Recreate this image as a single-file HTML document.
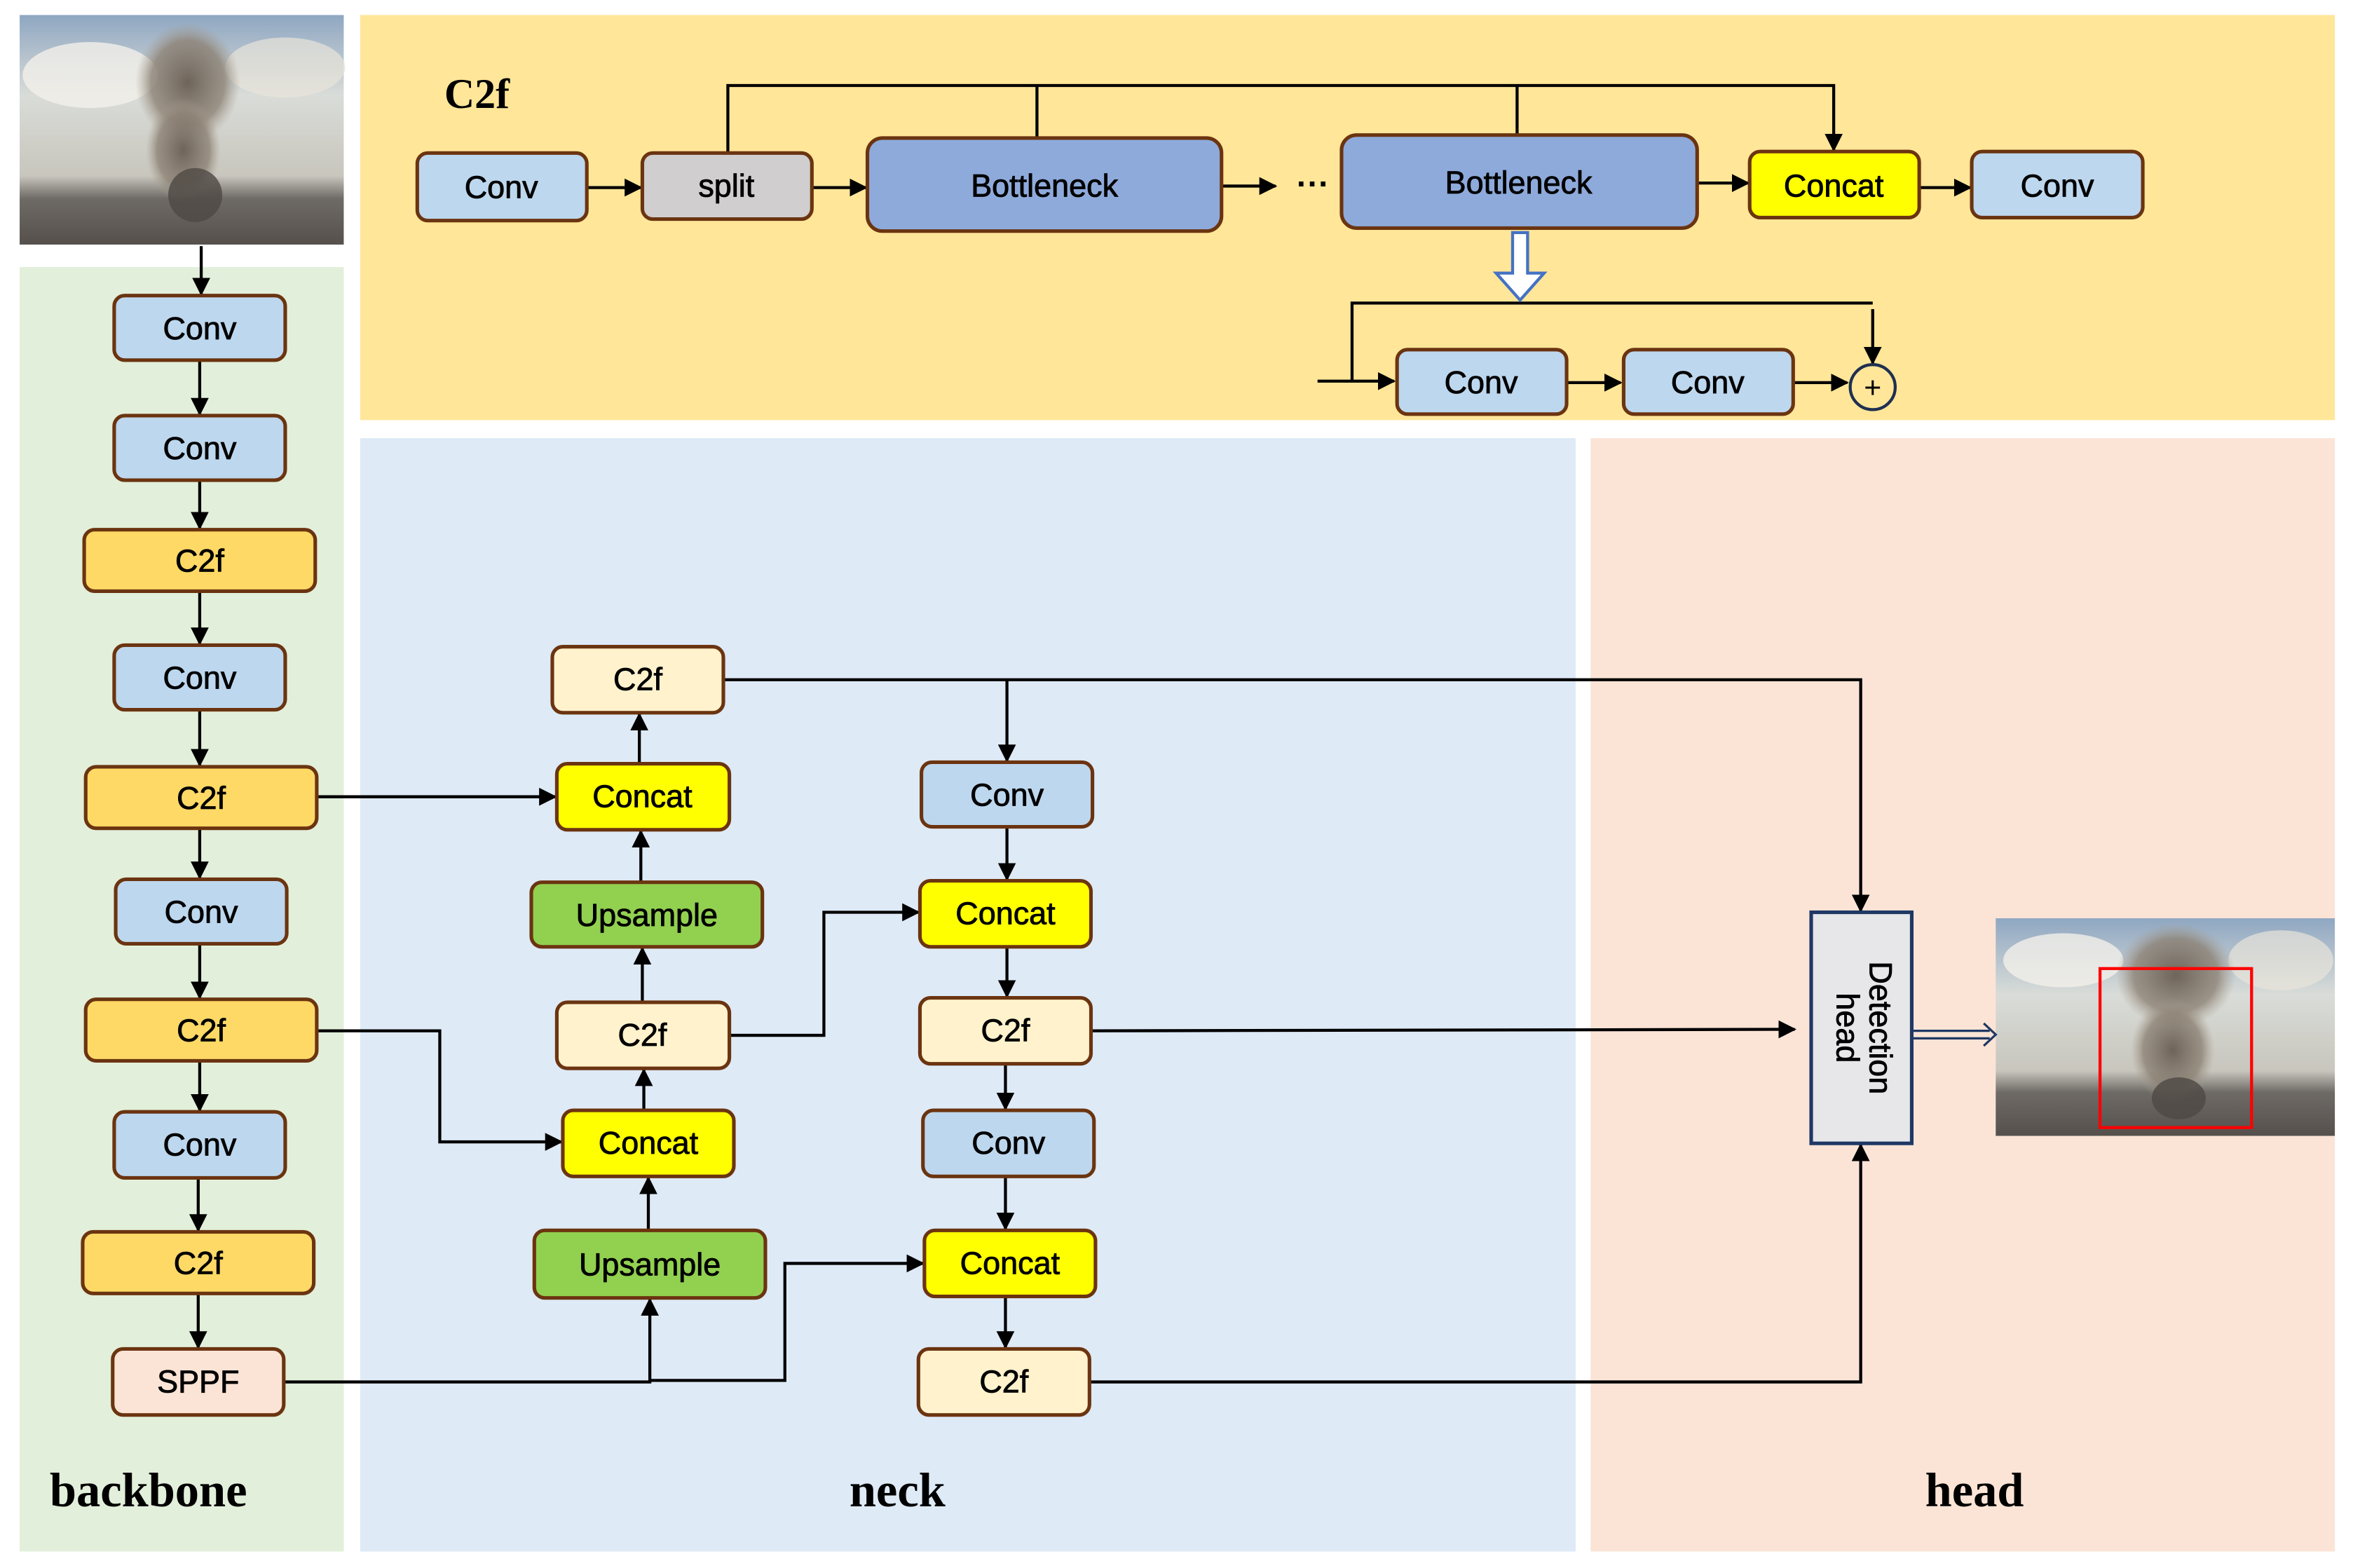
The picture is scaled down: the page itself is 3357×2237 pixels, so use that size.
<!DOCTYPE html>
<html><head><meta charset="utf-8">
<style>
html,body{margin:0;padding:0;background:#fff;}
svg{display:block;}
.n text, text.n{font-family:"Liberation Sans","DejaVu Sans",sans-serif;}
.s text{font-family:"Liberation Serif",serif;font-weight:bold;}
</style></head>
<body>
<svg width="3357" height="2237" viewBox="0 0 1568 1045" xmlns="http://www.w3.org/2000/svg">
<defs>
<marker id="a" viewBox="0 0 10 10" refX="9" refY="5" markerWidth="6" markerHeight="6" orient="auto"><path d="M0,0 L10,5 L0,10 z" fill="#000"/></marker>
<linearGradient id="sky" x1="0" y1="0" x2="0" y2="1">
<stop offset="0" stop-color="#8fa7c2"/><stop offset="0.35" stop-color="#d9dcd8"/><stop offset="0.7" stop-color="#c8c6bd"/><stop offset="0.8" stop-color="#6e6a66"/><stop offset="1" stop-color="#55504c"/></linearGradient>
<radialGradient id="smoke" cx="0.5" cy="0.5" r="0.5"><stop offset="0" stop-color="#6e645a"/><stop offset="0.7" stop-color="#8d8275" stop-opacity="0.8"/><stop offset="1" stop-color="#a89e90" stop-opacity="0"/></radialGradient>
</defs>
<rect width="1568" height="1045" fill="#fff"/>
<rect x="13" y="178" width="216" height="856" fill="#e2efda"/>
<rect x="240" y="10" width="1316" height="270" fill="#ffe699"/>
<rect x="240" y="292" width="810" height="742" fill="#deeaf6"/>
<rect x="1060" y="292" width="496" height="742" fill="#fbe4d6"/>
<g>
<rect x="13" y="10" width="216" height="153" fill="url(#sky)"/>
<ellipse cx="60" cy="50" rx="45" ry="22" fill="#f2f0ea" opacity="0.8"/>
<ellipse cx="190" cy="45" rx="40" ry="20" fill="#e8e4da" opacity="0.7"/>
<ellipse cx="125" cy="55" rx="35" ry="40" fill="url(#smoke)"/>
<ellipse cx="122" cy="100" rx="25" ry="35" fill="url(#smoke)"/>
<ellipse cx="130" cy="130" rx="18" ry="18" fill="#4e4944" opacity="0.8"/>
</g>
<g>
<rect x="1330" y="612" width="226" height="145" fill="url(#sky)"/>
<ellipse cx="1375" cy="640" rx="40" ry="18" fill="#f2f0ea" opacity="0.8"/>
<ellipse cx="1520" cy="640" rx="35" ry="20" fill="#e8e4da" opacity="0.7"/>
<ellipse cx="1450" cy="650" rx="40" ry="35" fill="url(#smoke)"/>
<ellipse cx="1448" cy="700" rx="28" ry="35" fill="url(#smoke)"/>
<ellipse cx="1452" cy="732" rx="18" ry="14" fill="#4e4944" opacity="0.8"/>
<rect x="1399.5" y="645.5" width="101" height="106" fill="none" stroke="#ff0000" stroke-width="2"/>
</g>

<g stroke="#000" stroke-width="2" fill="none">
<line x1="134" y1="164" x2="134" y2="196" marker-end="url(#a)"/>
<line x1="133" y1="241" x2="133" y2="276" marker-end="url(#a)"/>
<line x1="133" y1="321" x2="133" y2="352" marker-end="url(#a)"/>
<line x1="133" y1="395" x2="133" y2="429" marker-end="url(#a)"/>
<line x1="133" y1="474" x2="133" y2="510" marker-end="url(#a)"/>
<line x1="133" y1="553" x2="133" y2="585" marker-end="url(#a)"/>
<line x1="133" y1="630" x2="133" y2="665" marker-end="url(#a)"/>
<line x1="133" y1="708" x2="133" y2="740" marker-end="url(#a)"/>
<line x1="132" y1="786" x2="132" y2="820" marker-end="url(#a)"/>
<line x1="132" y1="863" x2="132" y2="898" marker-end="url(#a)"/>
<polyline points="211,531 370,531" marker-end="url(#a)"/>
<polyline points="211,687 293,687 293,761 374,761" marker-end="url(#a)"/>
<polyline points="189,921 433,921 433,866" marker-end="url(#a)"/>
<polyline points="433,920 523,920 523,842 615,842" marker-end="url(#a)"/>
<line x1="432" y1="820" x2="432" y2="785" marker-end="url(#a)"/>
<line x1="429" y1="740" x2="429" y2="713" marker-end="url(#a)"/>
<line x1="428" y1="668" x2="428" y2="632" marker-end="url(#a)"/>
<line x1="427" y1="588" x2="427" y2="554" marker-end="url(#a)"/>
<line x1="426" y1="509" x2="426" y2="476" marker-end="url(#a)"/>
<polyline points="486,690 549,690 549,608 612,608" marker-end="url(#a)"/>
<polyline points="482,453 1240,453 1240,607" marker-end="url(#a)"/>
<line x1="671" y1="453" x2="671" y2="507" marker-end="url(#a)"/>
<line x1="671" y1="552" x2="671" y2="586" marker-end="url(#a)"/>
<line x1="671" y1="632" x2="671" y2="664" marker-end="url(#a)"/>
<line x1="670" y1="710" x2="670" y2="739" marker-end="url(#a)"/>
<line x1="670" y1="785" x2="670" y2="819" marker-end="url(#a)"/>
<line x1="670" y1="865" x2="670" y2="898" marker-end="url(#a)"/>
<polyline points="728,687 1196,686" marker-end="url(#a)"/>
<polyline points="727,921 1240,921 1240,763" marker-end="url(#a)"/>
<line x1="392" y1="125" x2="427" y2="125" marker-end="url(#a)"/>
<line x1="542" y1="125" x2="577" y2="125" marker-end="url(#a)"/>
<line x1="815" y1="124" x2="850" y2="124" marker-end="url(#a)"/>
<line x1="1132" y1="122" x2="1165" y2="122" marker-end="url(#a)"/>
<line x1="1280" y1="125" x2="1313" y2="125" marker-end="url(#a)"/>
<polyline points="485,102 485,57 1222,57 1222,100" marker-end="url(#a)"/>
<line x1="691" y1="57" x2="691" y2="92"/>
<line x1="1011" y1="57" x2="1011" y2="90"/>
<polyline points="901,254 901,202 1248,202"/>
<line x1="1248" y1="206" x2="1248" y2="242" marker-end="url(#a)"/>
<line x1="878" y1="254" x2="929" y2="254" marker-end="url(#a)"/>
<line x1="1045" y1="255" x2="1080" y2="255" marker-end="url(#a)"/>
<line x1="1196" y1="255" x2="1231" y2="255" marker-end="url(#a)"/>
</g>
<circle cx="1248" cy="258" r="15" fill="none" stroke="#1f3050" stroke-width="2"/>
<text class="n" x="1248" y="265" font-size="20" text-anchor="middle" fill="#000">+</text>
<text class="n" x="875" y="130" font-size="22" font-weight="bold" text-anchor="middle" fill="#000">···</text>
<path d="M1008,155 L1018,155 L1018,182 L1029,182 L1013,200 L997,182 L1008,182 Z" fill="#fff" stroke="#4472c4" stroke-width="2"/>
<g stroke="#1f3864" stroke-width="1.5" fill="none">
<line x1="1274" y1="687" x2="1326" y2="687"/><line x1="1274" y1="692" x2="1326" y2="692"/>
<polyline points="1322,682 1330,689.5 1322,697"/>
</g>

<g stroke="#6b3410" stroke-width="2.4">
<g fill="#bdd7ee"><rect x="76" y="197" width="114" height="43" rx="7"/><rect x="76" y="277" width="114" height="43" rx="7"/><rect x="76" y="430" width="114" height="43" rx="7"/><rect x="77" y="586" width="114" height="43" rx="7"/><rect x="76" y="741" width="114" height="44" rx="7"/></g>
<g fill="#ffd966"><rect x="56" y="353" width="154" height="41" rx="7"/><rect x="57" y="511" width="154" height="41" rx="7"/><rect x="57" y="666" width="154" height="41" rx="7"/><rect x="55" y="821" width="154" height="41" rx="7"/></g>
<rect x="75" y="899" width="114" height="44" rx="7" fill="#fbe4d6"/>
<g fill="#fff2cc"><rect x="368" y="431" width="114" height="44" rx="7"/><rect x="371" y="668" width="115" height="44" rx="7"/><rect x="613" y="665" width="114" height="44" rx="7"/><rect x="612" y="899" width="114" height="44" rx="7"/></g>
<g fill="#ffff00"><rect x="371" y="509" width="115" height="44" rx="7"/><rect x="375" y="740" width="114" height="44" rx="7"/><rect x="613" y="587" width="114" height="44" rx="7"/><rect x="616" y="820" width="114" height="44" rx="7"/><rect x="1166" y="101" width="113" height="44" rx="7"/></g>
<g fill="#92d050"><rect x="354" y="588" width="154" height="43" rx="7"/><rect x="356" y="820" width="154" height="45" rx="7"/></g>
<g fill="#bdd7ee"><rect x="614" y="508" width="114" height="43" rx="7"/><rect x="615" y="740" width="114" height="44" rx="7"/><rect x="278" y="102" width="113" height="45" rx="7"/><rect x="1314" y="101" width="114" height="44" rx="7"/><rect x="931" y="233" width="113" height="43" rx="7"/><rect x="1082" y="233" width="113" height="43" rx="7"/></g>
<rect x="428" y="102" width="113" height="44" rx="7" fill="#d0cece"/>
<g fill="#8eaadb"><rect x="578" y="92" width="236" height="62" rx="10"/><rect x="894" y="90" width="237" height="62" rx="10"/></g>
<rect x="1207" y="608" width="67" height="154" fill="#e7e6e9" stroke="#1f3864"/>
</g>
<g class="n" font-size="21" text-anchor="middle" fill="#000" stroke="#000" stroke-width="0.4">
<text x="133" y="226">Conv</text><text x="133" y="306">Conv</text><text x="133" y="381">C2f</text><text x="133" y="459">Conv</text><text x="134" y="539">C2f</text><text x="134" y="615">Conv</text><text x="134" y="694">C2f</text><text x="133" y="770">Conv</text><text x="132" y="849">C2f</text><text x="132" y="928">SPPF</text>
<text x="425" y="460">C2f</text><text x="428" y="538">Concat</text><text x="431" y="617">Upsample</text><text x="428" y="697">C2f</text><text x="432" y="769">Concat</text><text x="433" y="850">Upsample</text>
<text x="671" y="537">Conv</text><text x="670" y="616">Concat</text><text x="670" y="694">C2f</text><text x="672" y="769">Conv</text><text x="673" y="849">Concat</text><text x="669" y="928">C2f</text>
<text x="334" y="132">Conv</text><text x="484" y="131">split</text><text x="696" y="131">Bottleneck</text><text x="1012" y="129">Bottleneck</text><text x="1222" y="131">Concat</text><text x="1371" y="131">Conv</text><text x="987" y="262">Conv</text><text x="1138" y="262">Conv</text>
<g transform="translate(1240,685) rotate(90)"><text x="0" y="-6">Detection</text><text x="0" y="16">head</text></g>
</g>
<g class="s" fill="#000">
<text x="296" y="72" font-size="28">C2f</text>
<text x="33" y="1004" font-size="32">backbone</text>
<text x="566" y="1004" font-size="32">neck</text>
<text x="1283" y="1004" font-size="32">head</text>
</g>
</svg>
</body></html>
